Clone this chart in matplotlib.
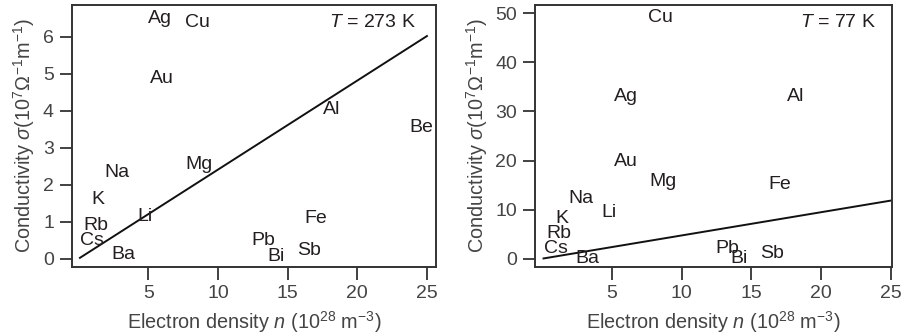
import matplotlib
matplotlib.use("Agg")
import matplotlib.pyplot as plt

plt.rcParams['font.family'] = ['Liberation Sans', 'DejaVu Sans']
plt.rcParams['mathtext.fontset'] = 'custom'
plt.rcParams['mathtext.rm'] = 'Liberation Sans'
plt.rcParams['mathtext.it'] = 'Liberation Sans:italic'
plt.rcParams['mathtext.sf'] = 'Liberation Sans'

# ---- data ----
elements_273 = ["Ag", "Cu", "Au", "Al", "Be", "Mg", "Na", "K", "Li", "Rb", "Cs", "Ba", "Fe", "Pb", "Bi", "Sb"]
n_273 = [5.85, 8.52, 5.97, 18.16, 24.62, 8.67, 2.74, 1.42, 4.77, 1.23, 0.95, 3.21, 17.04, 13.26, 14.17, 16.56]
sigma_273 = [6.56, 6.45, 4.92, 4.09, 3.59, 2.59, 2.38, 1.66, 1.18, 0.94, 0.55, 0.17, 1.14, 0.55, 0.10, 0.28]

elements_77 = ["Cu", "Ag", "Al", "Au", "Mg", "Fe", "Na", "Li", "K", "Rb", "Cs", "Ba", "Pb", "Bi", "Sb"]
n_77 = [8.51, 5.98, 18.16, 5.98, 8.68, 17.03, 2.76, 4.79, 1.44, 1.23, 0.99, 3.23, 13.26, 14.12, 16.51]
sigma_77 = [49.46, 33.4, 33.5, 20.25, 16.18, 15.5, 12.64, 9.78, 8.7, 5.64, 2.45, 0.55, 2.45, 0.55, 1.43]

line_n = [0.1, 25]
line_273 = [0.02, 6.02]
line_77 = [0.05, 11.85]

x_ticks = [5, 10, 15, 20, 25]
y_ticks_273 = [0, 1, 2, 3, 4, 5, 6]
y_ticks_77 = [0, 10, 20, 30, 40, 50]

TXT = '#231f20'
FS = 14
LFS = 14.3

fig = plt.figure(figsize=(9.04, 3.35), dpi=100)
W, H = 904, 335
ax1 = fig.add_axes([72 / W, (H - 266.7) / H, (436 - 72) / W, (266.7 - 5) / H])
ax2 = fig.add_axes([535.3 / W, (H - 266.7) / H, (891.7 - 535.3) / W, (266.7 - 5) / H])

ylabel = r'Conductivity $\sigma$(10$^{7}\Omega^{-1}$m$^{-1}$)'
xlabel = r'Electron density $n$ (10$^{28}$ m$^{-3}$)'


def style(ax, yt):
    for s in ax.spines.values():
        s.set_linewidth(1.4)
        s.set_color('#333333')
    ax.tick_params(direction='out', length=9, width=1.3, color='#333333',
                   labelsize=FS, labelcolor='#444444', pad=4)
    ax.set_xticks(x_ticks)
    ax.set_yticks(yt)
    ax.set_xlabel(xlabel, fontsize=LFS, color='#444444', labelpad=5)
    ax.set_ylabel(ylabel, fontsize=LFS, color='#444444', labelpad=4)


ax1.plot(line_n, line_273, color='#111111', lw=1.4)
for e, x, y in zip(elements_273, n_273, sigma_273):
    ax1.text(x, y, e, ha='center', va='center_baseline', fontsize=FS, color=TXT)
ax1.set_xlim(-0.47, 25.65)
ax1.set_ylim(-0.22, 6.86)
style(ax1, y_ticks_273)
ax1.text(0.945, 0.935, r'$T$ = 273 K', transform=ax1.transAxes, ha='right', va='center',
         fontsize=FS, color=TXT)

ax2.plot(line_n, line_77, color='#111111', lw=1.4)
for e, x, y in zip(elements_77, n_77, sigma_77):
    ax2.text(x, y, e, ha='center', va='center_baseline', fontsize=FS, color=TXT)
ax2.set_xlim(-0.49, 25.05)
ax2.set_ylim(-1.63, 51.7)
style(ax2, y_ticks_77)
ax2.text(0.955, 0.935, r'$T$ = 77 K', transform=ax2.transAxes, ha='right', va='center',
         fontsize=FS, color=TXT)

fig.savefig('out.png', dpi=100)
